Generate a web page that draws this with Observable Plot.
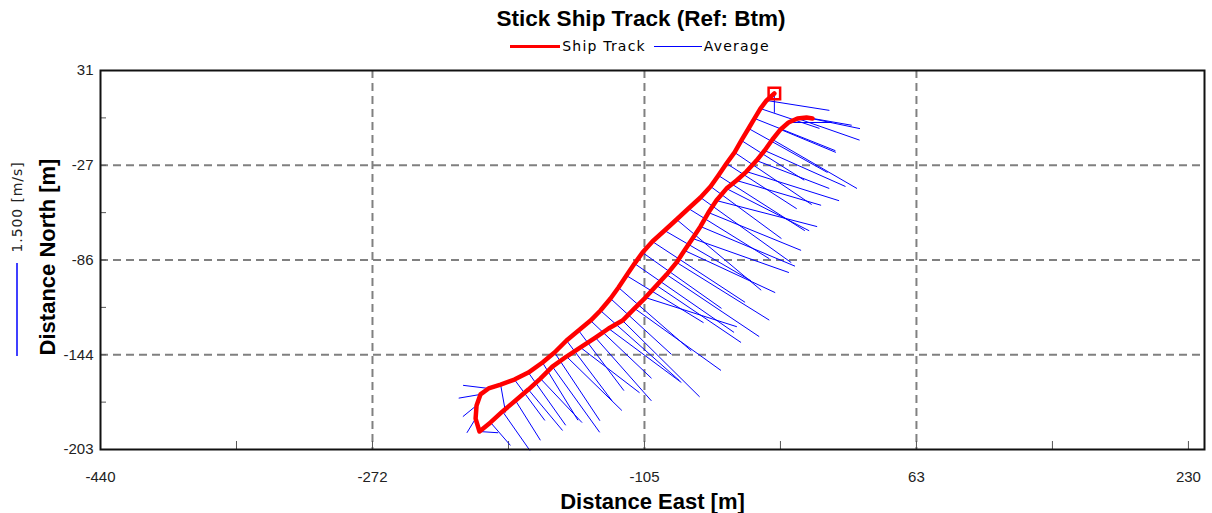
<!DOCTYPE html>
<html><head><meta charset="utf-8">
<script src="https://cdn.jsdelivr.net/npm/d3@7"></script>
<script src="https://cdn.jsdelivr.net/npm/@observablehq/plot@0.6"></script>
<style>
body{margin:0;background:#fff;font-family:"Liberation Sans",Arial,sans-serif;}
#wrap{position:relative;width:1212px;height:513px;overflow:hidden;}
#title{position:absolute;left:0;width:1282px;top:6px;text-align:center;font-weight:bold;font-size:22.5px;color:#000;}
#legend{position:absolute;left:0;width:1288px;top:37px;text-align:center;font-family:"DejaVu Sans",sans-serif;font-size:14px;letter-spacing:1.2px;color:#000;white-space:nowrap;}
#legend span.sw{display:inline-block;vertical-align:middle;margin-right:2px;}
#legend span.lb{vertical-align:middle;margin-right:8px;}
#chart{position:absolute;left:0;top:60px;}
</style></head>
<body>
<div id="wrap">
  <div id="title">Stick Ship Track (Ref: Btm)</div>
  <div id="legend"><span class="sw" style="width:50px;height:3px;background:#ff0000"></span><span class="lb">Ship Track</span><span class="sw" style="width:48px;height:0;border-top:1.5px solid #0000ff"></span><span class="lb">Average</span></div>
  <div id="chart"></div>
</div>
<script>
// Ensemble positions along the ship track (m), in sailing order
const east = [-25.0,-29.8,-33.6,-37.2,-40.9,-45.3,-49.5,-54.5,-59.5,-64.3,-70.5,-77.9,-85.2,-92.6,-100.1,-106.2,-111.1,-116.1,-121.0,-125.9,-132.1,-138.2,-145.6,-153.0,-160.4,-167.8,-176.5,-185.1,-193.6,-201.0,-206.0,-208.4,-209.0,-206.6,
  -199.8,-192.4,-184.4,-176.5,-169.1,-161.7,-153.0,-144.4,-135.2,-127.1,-118.5,-111.1,-104.4,-97.6,-91.4,-85.2,-80.4,-75.4,-70.5,-65.6,-60.7,-54.5,-48.3,-42.2,-36.0,-31.0,-26.2,-21.2,-16.3,-10.8,-5.2,-1.5];
const north = [16.8,12.5,7.5,1.4,-4.8,-12.2,-19.6,-26.4,-33.8,-40.6,-47.4,-54.2,-61.0,-67.8,-74.6,-81.4,-88.2,-95.6,-103.0,-109.8,-117.2,-123.4,-129.5,-135.7,-143.1,-149.3,-155.5,-159.8,-162.9,-165.3,-169.0,-175.8,-183.9,-191.9,
  -186.3,-179.5,-172.8,-166.0,-159.2,-151.8,-145.6,-140.0,-133.9,-128.3,-123.4,-115.9,-109.2,-101.7,-95.0,-87.5,-80.1,-72.7,-65.3,-56.7,-49.3,-41.9,-36.9,-31.4,-24.6,-18.4,-11.6,-5.4,-1.1,1.4,2.0,1.4];
// Depth-averaged velocity components (m/s)
const velEast = [0.00,1.01,0.95,1.30,1.27,1.01,1.24,1.13,1.39,1.14,1.46,1.30,1.36,1.39,1.49,1.27,1.60,1.24,1.17,0.98,1.27,0.98,0.73,0.73,0.73,0.57,0.60,0.49,0.08,-0.41,-0.35,-0.22,-0.14,0.30,
  0.32,0.44,0.40,0.55,0.67,0.76,0.89,0.95,0.90,1.17,1.24,1.39,1.47,1.36,1.49,1.49,1.46,1.55,1.52,1.49,1.62,1.33,1.36,1.49,1.17,1.30,1.36,0.89,0.70,1.00,0.86,0.63];
const velNorth = [-0.31,-0.16,-0.32,-0.52,-0.71,-0.64,-0.84,-0.73,-0.89,-0.84,-1.05,-0.81,-1.14,-0.81,-0.98,-0.90,-1.11,-0.76,-1.02,-0.90,-1.13,-0.93,-0.97,-0.97,-1.10,-0.93,-0.85,-0.66,-0.45,0.05,-0.06,-0.18,-0.23,-0.02,
  -0.37,-0.63,-0.64,-0.66,-0.71,-1.06,-0.87,-0.73,-1.02,-0.87,-1.23,-1.00,-0.47,-0.92,-1.00,-0.93,-0.68,-0.55,-0.64,-0.61,-0.42,-0.68,-0.40,-0.47,-0.45,-0.58,-0.79,-0.37,0.00,-0.35,-0.18,-0.11];

const xTicks = [-440,-272.5,-105,62.5,230];
const xTickLabels = ["-440","-272","-105","63","230"];
const yTicks = [31,-27.5,-86,-144.5,-203];
const yTickLabels = ["31","-27","-86","-144","-203"];
const xDomain = [-440, 239.9];
const yDomain = [-203, 31];
const legendSpeed = 1.5;          // m/s, length of the scale stick
const stickScale = 38.3;          // metres drawn per 1 m/s

const ens = east.map((e,i)=>({east:e, north:north[i], ve:velEast[i], vn:velNorth[i]}));
const xMap = new Map(xTicks.map((t,i)=>[t,xTickLabels[i]]));
const yMap = new Map(yTicks.map((t,i)=>[t,yTickLabels[i]]));
const xMinor = d3.range(xTicks.length*2-1).map(k=> k%2===0 ? xTicks[k/2] : (xTicks[(k-1)/2]+xTicks[(k+1)/2])/2);
const yMinor = d3.range(yTicks.length*2-1).map(k=> k%2===0 ? yTicks[k/2] : (yTicks[(k-1)/2]+yTicks[(k+1)/2])/2);
const gridStyle = {stroke:"#808080", strokeOpacity:1, strokeWidth:2, strokeDasharray:"8,5"};

const plot = Plot.plot({
  width:1212, height:453,
  marginLeft:100, marginRight:8, marginTop:10, marginBottom:64,
  x:{domain:xDomain}, y:{domain:yDomain},
  style:{fontFamily:"'Liberation Sans',Arial,sans-serif", fontSize:"15px", color:"#222", background:"white", overflow:"visible"},
  marks:[
    Plot.gridX(xTicks.slice(1,-1), gridStyle),
    Plot.gridY(yTicks.slice(1,-1), gridStyle),
    Plot.tickX(xMinor, {x:d=>d, stroke:"#555", strokeWidth:1, insetTop:371}),
    Plot.tickY(yMinor, {y:d=>d, stroke:"#555", strokeWidth:1, insetRight:1098}),
    Plot.link(ens, {x1:"east", y1:"north", x2:d=>d.east+d.ve*stickScale, y2:d=>d.north+d.vn*stickScale, stroke:"#0000ff", strokeWidth:1}),
    Plot.line(ens, {x:"east", y:"north", stroke:"#ff0000", strokeWidth:4.5, strokeLinejoin:"round"}),
    Plot.dot(ens.slice(0,1), {x:"east", y:"north", symbol:"square", r:6.5, stroke:"#ff0000", strokeWidth:2.5, fill:"none"}),
    Plot.frame({stroke:"#111", strokeWidth:2}),
    Plot.axisX({ticks:xTicks, tickFormat:d=>xMap.get(d), tickSize:0, tickPadding:22, label:null}),
    Plot.axisY({ticks:yTicks, tickFormat:d=>yMap.get(d), tickSize:0, tickPadding:7, label:null}),
    Plot.text(["Distance North [m]"], {text:d=>d, frameAnchor:"left", textAnchor:"middle", lineAnchor:"middle", rotate:-90, dx:-53, dy:-3, fontWeight:"bold", fontSize:22, fill:"#000"}),
    Plot.text(["Distance East [m]"], {text:d=>d, frameAnchor:"bottom", textAnchor:"middle", lineAnchor:"middle", dy:52, fontWeight:"bold", fontSize:22, fill:"#000"}),
    Plot.text(["1.500 [m/s]"], {text:d=>d, frameAnchor:"left", textAnchor:"middle", lineAnchor:"middle", rotate:-90, dx:-83, dy:-53, fontSize:14, fontFamily:"'DejaVu Sans',sans-serif", fill:"#222", className:"speedlabel"})
  ]
});
document.getElementById("chart").appendChild(plot);
const svg = d3.select(plot.tagName.toLowerCase()==="svg" ? plot : plot.querySelector("svg"));
svg.selectAll(".speedlabel text").style("letter-spacing","0.9px");
// scale stick legend (length follows the y scale)
const ys = plot.scale("y");
const len = Math.abs(ys.apply(yDomain[0] + legendSpeed*stickScale) - ys.apply(yDomain[0]));
svg.append("line").attr("x1",17).attr("x2",17).attr("y1",203).attr("y2",203+len).attr("stroke","#0000ff").attr("stroke-width",1.5);
</script>
</body></html>
